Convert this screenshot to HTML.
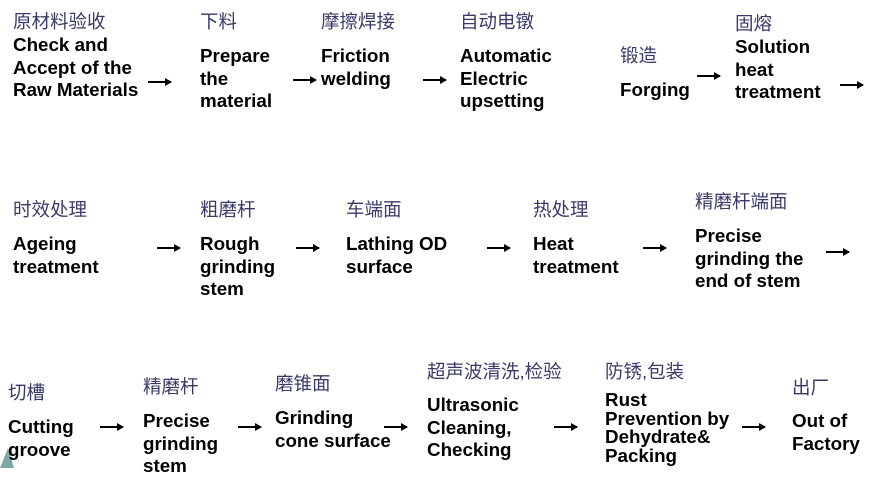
<!DOCTYPE html>
<html><head><meta charset="utf-8"><style>
body{margin:0;width:869px;height:468px;overflow:hidden;background:#fff;position:relative}
.c{position:absolute;font-family:"Liberation Sans","Noto Sans CJK SC",sans-serif;font-size:18.5px;color:#3a3a6a;white-space:nowrap;line-height:20px}
.e{position:absolute;font-family:"Liberation Sans",sans-serif;font-weight:bold;font-size:18.8px;color:#000;white-space:nowrap;line-height:22.5px}
.a{position:absolute;width:23px;height:2px;background:#000}
.a:after{content:"";position:absolute;right:-1px;top:-3.5px;border-left:7px solid #000;border-top:4.5px solid transparent;border-bottom:4.5px solid transparent}
</style></head><body>
<svg style="position:absolute;left:0;top:440px" width="20" height="28"><path d="M0 28 L8 8 L14 28 Z" fill="#7fa9a6"/></svg>

<div class="c" style="left:13px;top:12px">原材料验收</div>
<div class="e" style="left:13px;top:34px">Check and<br>Accept of the<br>Raw Materials</div>
<div class="a" style="left:148px;top:81px"></div>
<div class="c" style="left:200px;top:12px">下料</div>
<div class="e" style="left:200px;top:45px">Prepare<br>the<br>material</div>
<div class="a" style="left:293px;top:79px"></div>
<div class="c" style="left:321px;top:12px">摩擦焊接</div>
<div class="e" style="left:321px;top:45px">Friction<br>welding</div>
<div class="a" style="left:423px;top:79px"></div>
<div class="c" style="left:460px;top:12px">自动电镦</div>
<div class="e" style="left:460px;top:45px">Automatic<br>Electric<br>upsetting</div>
<div class="c" style="left:620px;top:46px">锻造</div>
<div class="e" style="left:620px;top:79px">Forging</div>
<div class="a" style="left:697px;top:75px"></div>
<div class="c" style="left:735px;top:14px">固熔</div>
<div class="e" style="left:735px;top:36px">Solution<br>heat<br>treatment</div>
<div class="a" style="left:840px;top:84px"></div>

<div class="c" style="left:13px;top:200px">时效处理</div>
<div class="e" style="left:13px;top:233px">Ageing<br>treatment</div>
<div class="a" style="left:157px;top:247px"></div>
<div class="c" style="left:200px;top:200px">粗磨杆</div>
<div class="e" style="left:200px;top:233px">Rough<br>grinding<br>stem</div>
<div class="a" style="left:296px;top:247px"></div>
<div class="c" style="left:346px;top:200px">车端面</div>
<div class="e" style="left:346px;top:233px">Lathing OD<br>surface</div>
<div class="a" style="left:487px;top:247px"></div>
<div class="c" style="left:533px;top:200px">热处理</div>
<div class="e" style="left:533px;top:233px">Heat<br>treatment</div>
<div class="a" style="left:643px;top:247px"></div>
<div class="c" style="left:695px;top:192px">精磨杆端面</div>
<div class="e" style="left:695px;top:225px">Precise<br>grinding the<br>end of stem</div>
<div class="a" style="left:826px;top:251px"></div>

<div class="c" style="left:8px;top:383px">切槽</div>
<div class="e" style="left:8px;top:416px">Cutting<br>groove</div>
<div class="a" style="left:100px;top:426px"></div>
<div class="c" style="left:143px;top:377px">精磨杆</div>
<div class="e" style="left:143px;top:410px">Precise<br>grinding<br>stem</div>
<div class="a" style="left:238px;top:426px"></div>
<div class="c" style="left:275px;top:374px">磨锥面</div>
<div class="e" style="left:275px;top:407px">Grinding<br>cone surface</div>
<div class="a" style="left:384px;top:426px"></div>
<div class="c" style="left:427px;top:362px">超声波清洗,检验</div>
<div class="e" style="left:427px;top:394px">Ultrasonic<br>Cleaning,<br>Checking</div>
<div class="a" style="left:554px;top:426px"></div>
<div class="c" style="left:605px;top:362px">防锈,包装</div>
<div class="e" style="left:605px;top:391px;line-height:18.7px">Rust<br>Prevention by<br>Dehydrate&amp;<br>Packing</div>
<div class="a" style="left:742px;top:426px"></div>
<div class="c" style="left:792px;top:378px">出厂</div>
<div class="e" style="left:792px;top:410px">Out of<br>Factory</div>
</body></html>
